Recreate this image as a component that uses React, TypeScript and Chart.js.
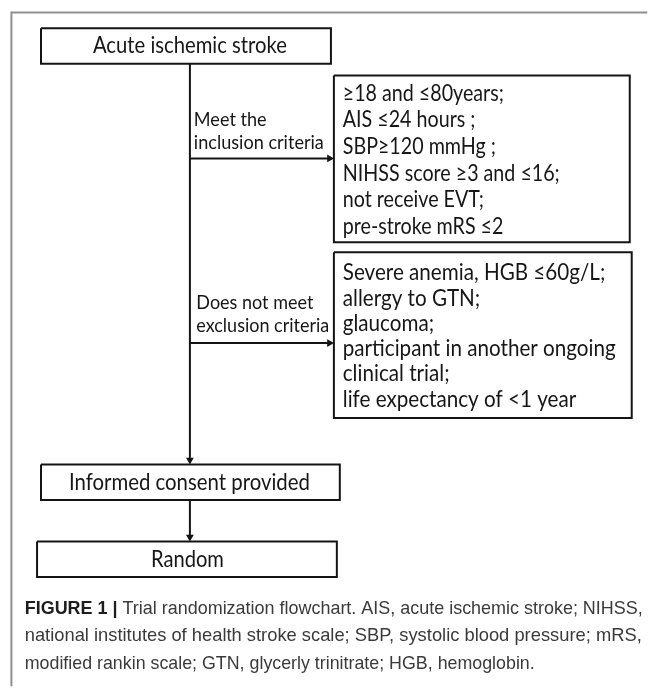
import React, { useEffect, useRef } from "react";
import { Chart, registerables } from "chart.js";

Chart.register(...registerables);

// ---- content ----
const startLabel = "Acute ischemic stroke";
const inclusionLabel = ["Meet the", "inclusion criteria"];
const inclusionCriteria = [
  "≥18 and ≤80years;",
  "AIS ≤24 hours ;",
  "SBP≥120 mmHg ;",
  "NIHSS score ≥3 and ≤16;",
  "not receive EVT;",
  "pre-stroke mRS ≤2",
];
const exclusionLabel = ["Does not meet", "exclusion criteria"];
const exclusionCriteria = [
  "Severe anemia, HGB ≤60g/L;",
  "allergy to GTN;",
  "glaucoma;",
  "participant in another ongoing",
  "clinical trial;",
  "life expectancy of <1 year",
];
const consentLabel = "Informed consent provided";
const endLabel = "Random";
const captionTitle = "FIGURE 1 |";
const captionLines = [
  "Trial randomization flowchart. AIS, acute ischemic stroke; NIHSS,",
  "national institutes of health stroke scale; SBP, systolic blood pressure; mRS,",
  "modified rankin scale; GTN, glycerly trinitrate; HGB, hemoglobin.",
];

// ---- layout (kept separate from content) ----
const W = 652;
const H = 691;
const LAYOUT = {
  frame: { x: 7, y: 8 },
  start: { x0: 37, x1: 331, y0: 24, y1: 60 },
  incl: { x0: 334, x1: 634, y0: 72, y1: 241 },
  excl: { x0: 334, x1: 636, y0: 251, y1: 419 },
  consent: { x0: 37, x1: 340, y0: 466, y1: 502 },
  end: { x0: 33, x1: 337, y0: 544, y1: 580 },
  spineX: 188,
  inclY: 156,
  exclY: 343,
  captionX: 20.5,
  captionY: [612, 640, 668],
  captionWidths: [618, 617, 510],
};
const FLOW_FONT = "Lato, 'Open Sans', sans-serif";
const CAP_FONT = "'Liberation Sans', Arial, sans-serif";
const ARROW_R = 4.5;

type Box = { x0: number; x1: number; y0: number; y1: number };
const boxPts = (b: Box) => [
  { x: b.x0, y: b.y0 },
  { x: b.x1, y: b.y0 },
  { x: b.x1, y: b.y1 },
  { x: b.x0, y: b.y1 },
  { x: b.x0, y: b.y0 },
];

const lineDs = (data: any[], color = "#141414", width = 2) => ({
  type: "scatter" as const,
  data,
  showLine: true,
  borderColor: color,
  borderWidth: width,
  pointRadius: 0,
  pointHoverRadius: 0,
  tension: 0,
  fill: false,
});

const textPlugin = {
  id: "flowText",
  afterDatasetsDraw(chart: any) {
    const ctx: CanvasRenderingContext2D = chart.ctx;
    const xs = chart.scales.x;
    const ys = chart.scales.y;
    const px = (v: number) => xs.getPixelForValue(v);
    const py = (v: number) => ys.getPixelForValue(v);

    const drawGroup = (
      lines: string[],
      x: number,
      y0: number,
      step: number,
      size: number,
      refIndex: number,
      refWidth: number,
      align: "left" | "center",
      color = "#161616"
    ) => {
      ctx.save();
      ctx.font = `${size}px ${FLOW_FONT}`;
      ctx.fillStyle = color;
      ctx.textBaseline = "middle";
      const sx = refWidth / ctx.measureText(lines[refIndex]).width;
      lines.forEach((t, i) => {
        const w = ctx.measureText(t).width * sx;
        const X = px(x);
        const Y = py(y0 + i * step);
        ctx.save();
        ctx.translate(align === "center" ? X - w / 2 : X, Y);
        ctx.scale(sx, 1);
        ctx.textAlign = "left";
        ctx.fillText(t, 0, 0);
        ctx.restore();
      });
      ctx.restore();
    };

    const L = LAYOUT;
    drawGroup([startLabel], 188, 42, 0, 23, 0, 194, "center");
    drawGroup(inclusionLabel, 192, 117, 23.5, 18.5, 1, 130, "left");
    drawGroup(inclusionCriteria, 343, 90, 27, 23, 3, 217, "left");
    drawGroup(exclusionLabel, 194.5, 302, 24, 18.5, 1, 133, "left");
    drawGroup(exclusionCriteria, 343, 272, 25.6, 23, 3, 273, "left");
    drawGroup([consentLabel], 187.5, (L.consent.y0 + L.consent.y1) / 2, 0, 23, 0, 241, "center");
    drawGroup([endLabel], 185.5, (L.end.y0 + L.end.y1) / 2, 0, 23, 0, 73, "center");

    // caption
    ctx.save();
    ctx.textBaseline = "middle";
    const capSize = 19;
    const capX = px(L.captionX);
    ctx.font = `bold ${capSize}px ${CAP_FONT}`;
    const tw = ctx.measureText(captionTitle + " ").width;
    ctx.font = `${capSize}px ${CAP_FONT}`;
    captionLines.forEach((t, i) => {
      ctx.font = `${capSize}px ${CAP_FONT}`;
      const lead = i === 0 ? tw : 0;
      const natural = lead + ctx.measureText(t).width;
      const s = L.captionWidths[i] / natural;
      ctx.save();
      ctx.translate(capX, py(L.captionY[i]));
      ctx.scale(s, 1);
      if (i === 0) {
        ctx.font = `bold ${capSize}px ${CAP_FONT}`;
        ctx.fillStyle = "#1e1e1e";
        ctx.fillText(captionTitle, 0, 0);
        ctx.font = `${capSize}px ${CAP_FONT}`;
      }
      ctx.fillStyle = "#3a3a3a";
      ctx.fillText(t, lead, 0);
      ctx.restore();
    });
    ctx.restore();
  },
};

export default function App() {
  const ref = useRef<HTMLCanvasElement | null>(null);
  useEffect(() => {
    if (!ref.current) return;
    const L = LAYOUT;
    const sx = L.spineX;
    const arrowHeads = [
      { x: sx, y: L.consent.y0 - ARROW_R, r: 180 },
      { x: L.incl.x0 - ARROW_R, y: L.inclY, r: 90 },
      { x: L.excl.x0 - ARROW_R, y: L.exclY, r: 90 },
      { x: sx, y: L.end.y0 - ARROW_R, r: 180 },
    ];
    const chart = new Chart(ref.current, {
      type: "scatter",
      data: {
        datasets: [
          lineDs(
            [
              { x: L.frame.x, y: H },
              { x: L.frame.x, y: L.frame.y },
              { x: W, y: L.frame.y },
            ],
            "#8f8f8f",
            2
          ),
          lineDs(boxPts(L.start)),
          lineDs(boxPts(L.incl)),
          lineDs(boxPts(L.excl)),
          lineDs(boxPts(L.consent)),
          lineDs(boxPts(L.end)),
          lineDs([
            { x: sx, y: L.start.y1 },
            { x: sx, y: L.consent.y0 - 2 },
          ]),
          lineDs([
            { x: sx, y: L.inclY },
            { x: L.incl.x0 - 2, y: L.inclY },
          ]),
          lineDs([
            { x: sx, y: L.exclY },
            { x: L.excl.x0 - 2, y: L.exclY },
          ]),
          lineDs([
            { x: sx, y: L.consent.y1 },
            { x: sx, y: L.end.y0 - 2 },
          ]),
          {
            type: "scatter" as const,
            data: arrowHeads.map((a) => ({ x: a.x, y: a.y })),
            pointStyle: "triangle",
            pointRadius: ARROW_R,
            pointHoverRadius: ARROW_R,
            rotation: arrowHeads.map((a) => a.r),
            backgroundColor: "#141414",
            borderColor: "#141414",
            borderWidth: 0,
          } as any,
        ],
      },
      options: {
        animation: false,
        responsive: false,
        devicePixelRatio: 1,
        layout: { padding: 0 },
        events: [],
        plugins: {
          legend: { display: false },
          tooltip: { enabled: false },
          title: { display: false },
        },
        scales: {
          x: { type: "linear", min: 0, max: W, display: false },
          y: { type: "linear", min: 0, max: H, reverse: true, display: false },
        },
      } as any,
      plugins: [textPlugin],
    });
    return () => chart.destroy();
  }, []);

  return (
    <div style={{ position: "fixed", left: 0, top: 0, width: W, height: H, background: "#fff" }}>
      <canvas ref={ref} width={W} height={H} style={{ display: "block" }} />
    </div>
  );
}
